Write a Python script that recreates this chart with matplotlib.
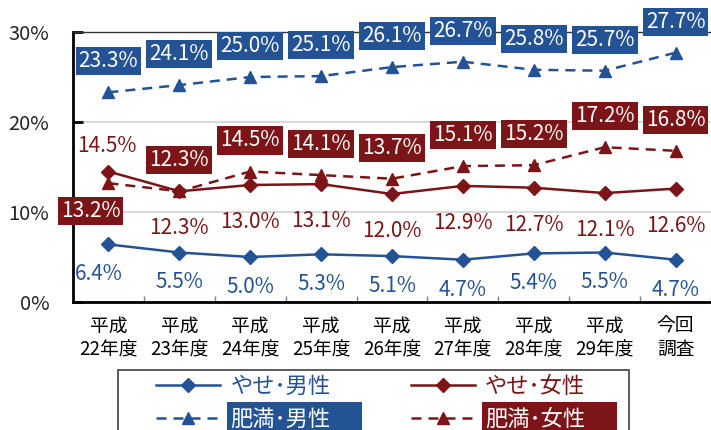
import matplotlib
matplotlib.use("Agg")
import matplotlib.pyplot as plt
from matplotlib.patches import Rectangle
from matplotlib.transforms import IdentityTransform

plt.rcParams["font.family"] = ["Noto Sans CJK JP", "DejaVu Sans"]

years = ["平成\n22年度", "平成\n23年度", "平成\n24年度", "平成\n25年度", "平成\n26年度",
         "平成\n27年度", "平成\n28年度", "平成\n29年度", "今回\n調査"]
thin_male = [6.4, 5.5, 5.0, 5.3, 5.1, 4.7, 5.4, 5.5, 4.7]
thin_female = [14.5, 12.3, 13.0, 13.1, 12.0, 12.9, 12.7, 12.1, 12.6]
obese_male = [23.3, 24.1, 25.0, 25.1, 26.1, 26.7, 25.8, 25.7, 27.7]
obese_female = [13.2, 12.3, 14.5, 14.1, 13.7, 15.1, 15.2, 17.2, 16.8]
names = ["やせ･男性", "やせ･女性", "肥満･男性", "肥満･女性"]

BLUE = "#245395"
RED = "#7b1517"
DASH = (4, 2.8)

fig = plt.figure(figsize=(7.11, 4.30), dpi=100)
ax = fig.add_axes([73 / 711, 128 / 430, 638 / 711, 270 / 430])
x = list(range(len(years)))

l_om, = ax.plot(x, obese_male, color=BLUE, lw=1.8, dashes=DASH, marker="^", ms=9, zorder=3)
l_of, = ax.plot(x, obese_female, color=RED, lw=1.8, dashes=DASH, marker="^", ms=9, zorder=3)
l_tm, = ax.plot(x, thin_male, color=BLUE, lw=1.8, marker="D", ms=7, zorder=4)
l_tf, = ax.plot(x, thin_female, color=RED, lw=1.8, marker="D", ms=7, zorder=4)


def labels(vals, color, dy, boxed=False, first=None):
    for i, v in enumerate(vals):
        off = first if (i == 0 and first) else (0, dy)
        kw = dict(color=color)
        if boxed:
            kw = dict(color="white",
                      bbox=dict(boxstyle="square,pad=0.15", fc=color, ec="none"))
        ax.annotate(f"{v:.1f}%", (i, v), xytext=off, textcoords="offset pixels",
                    ha="center", va="center", fontsize=15, zorder=6, **kw)


labels(thin_male, BLUE, -30, first=(-10, -30))
labels(thin_female, RED, -37, first=(-2, 26))
labels(obese_male, BLUE, 31, boxed=True)
labels(obese_female, RED, 31, boxed=True, first=(-18, -28))

ax.set_xlim(-0.5, 8.41)
ax.set_ylim(0, 30)
ax.set_yticks([0, 10, 20, 30])
ax.set_yticklabels([f"{t}%" for t in [0, 10, 20, 30]])
ax.set_xticks(x)
ax.set_xticklabels(years, fontsize=13.5, linespacing=1.15)
ax.set_xticks([i + 0.5 for i in x], minor=True)
ax.tick_params(axis="x", which="major", length=0, pad=10)
ax.tick_params(axis="x", which="minor", direction="in", length=4, width=1, color="#7f7f7f")
ax.tick_params(axis="y", direction="in", length=7, width=2, pad=17, labelsize=14.5,
               labelcolor="#262626")

ax.yaxis.grid(True, color="#d9d9d9", lw=1.5)
ax.set_axisbelow(True)
for s in ["left", "bottom"]:
    ax.spines[s].set_linewidth(2)
ax.spines["top"].set_linewidth(1)
ax.spines["top"].set_color("#333333")
ax.spines["right"].set_visible(False)

# legend: row1 thin, row2 obese
leg = fig.legend([l_tm, l_om, l_tf, l_of], [names[0], names[2], names[1], names[3]],
                 ncol=2, loc="upper left", bbox_to_anchor=(156 / 711, 1 - 375 / 430),
                 frameon=False, fontsize=16, handlelength=2.9, handletextpad=0.45,
                 columnspacing=3.6, labelspacing=0.42, borderpad=0, borderaxespad=0)
texts = leg.get_texts()
for txt, col in zip(texts, [BLUE, BLUE, RED, RED]):
    txt.set_color(col)

# filled label background for the 肥満 entries
fig.canvas.draw()
for txt, col in [(texts[1], BLUE), (texts[3], RED)]:
    txt.set_color("white")
    bb = txt.get_window_extent()
    yc = (bb.y0 + bb.y1) / 2
    fig.add_artist(Rectangle((bb.x0 - 3, yc - 17), 135, 34, transform=IdentityTransform(),
                             fc=col, ec="none", zorder=4))

fig.add_artist(Rectangle((118 / 711, -0.1), (629 - 118) / 711, (430 - 370) / 430 + 0.1,
                         transform=fig.transFigure, fill=False, ec="#404040", lw=1.2))

fig.savefig("out.png", dpi=100)
